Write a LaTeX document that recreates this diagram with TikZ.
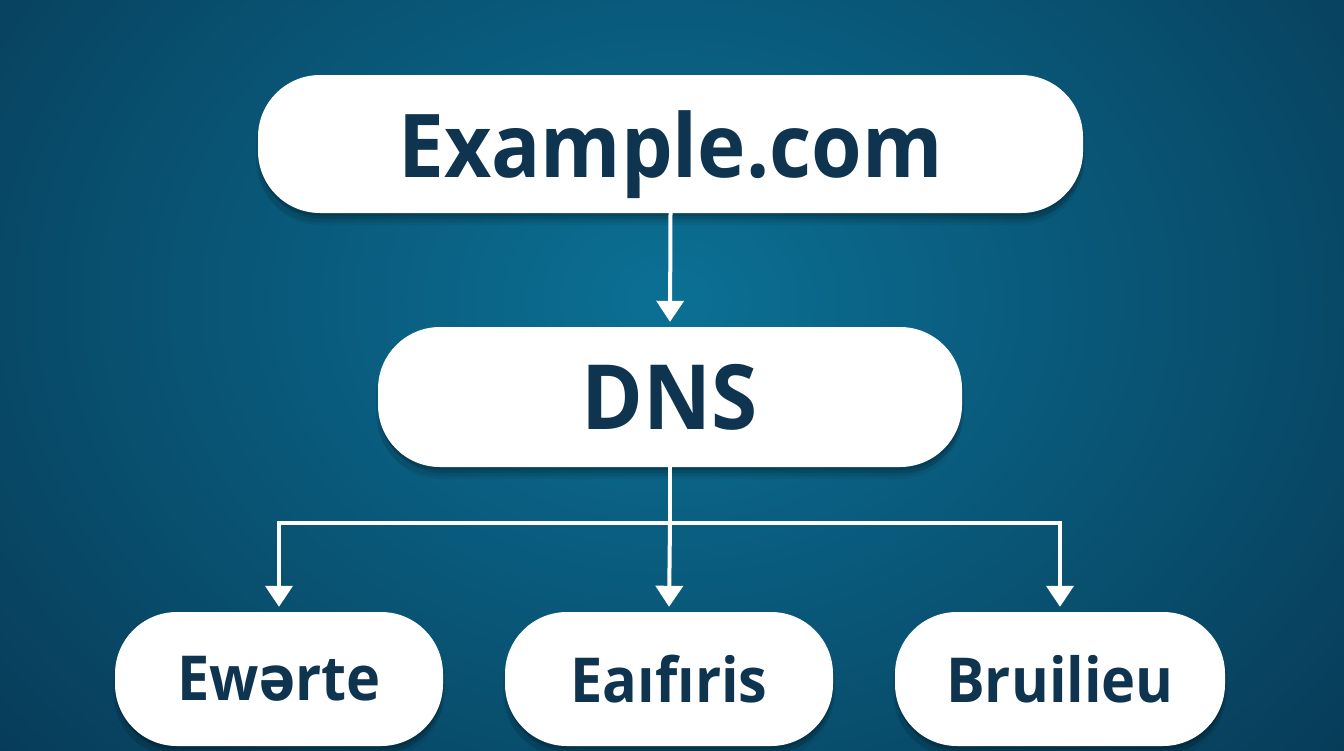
\documentclass[tikz,border=0pt]{standalone}
\usepackage{fontspec}
\setmainfont{Open Sans}[FakeStretch=0.93]
\newfontfamily\dvbold{DejaVu Sans Bold}[FakeStretch=0.86]
\usetikzlibrary{arrows.meta,shadows}
\definecolor{bgin}{HTML}{0B7095}
\definecolor{bgout}{HTML}{073A56}
\definecolor{ink}{HTML}{0E3450}
\tikzset{
  pill/.style={draw=none, fill=white, rounded corners=62pt, inner sep=0pt,
    text=ink, font=\bfseries,
    general shadow={fill=black, opacity=0.12, shadow xshift=0pt, shadow yshift=-3pt},
    general shadow={fill=black, opacity=0.10, shadow xshift=2pt, shadow yshift=-6pt},
    general shadow={fill=black, opacity=0.08, shadow xshift=-2pt, shadow yshift=-9pt},
    general shadow={fill=black, opacity=0.06, shadow xshift=0pt, shadow yshift=-12pt}},
  conn/.style={draw=white, line width=4pt},
  arr/.style={conn, -{Triangle[width=27pt,length=21pt]}, shorten >=5pt},
}
\begin{document}
\begin{tikzpicture}[x=1pt,y=-1pt]
\useasboundingbox (0,0) rectangle (1344,750);
\begin{scope}
\clip (0,0) rectangle (1344,750);
\shade[inner color=bgin, outer color=bgout] (-250,-420) rectangle (1590,1020);
\end{scope}
\node[pill, minimum width=825pt, minimum height=138pt, text depth=0pt, font=\bfseries\fontsize{88}{92}\selectfont] (top) at (670.5,144) {Example.com};
\node[pill, minimum width=584pt, minimum height=140pt, font=\bfseries\fontsize{90}{94}\selectfont] (dns) at (670,397) {DNS};
\node[pill, minimum width=328pt, minimum height=134pt, font=\bfseries\fontsize{62}{66}\selectfont] (b1) at (279,679) {Ew{\dvbold ə}rte};
\node[pill, minimum width=328pt, minimum height=134pt, font=\bfseries\fontsize{62}{66}\selectfont] (b2) at (669,679) {Eaıfıris};
\node[pill, minimum width=330pt, minimum height=134pt, font=\bfseries\fontsize{62}{66}\selectfont] (b3) at (1060,679) {Bruilieu};
\coordinate (j) at (670,523);
\draw[arr] (top.south) -- (dns.north);
\draw[conn] (dns.south) -- (j);
\draw[arr] (j) -| (b1.north);
\draw[arr] (j) -- (b2.north);
\draw[arr] (j) -| (b3.north);
\end{tikzpicture}
\end{document}
